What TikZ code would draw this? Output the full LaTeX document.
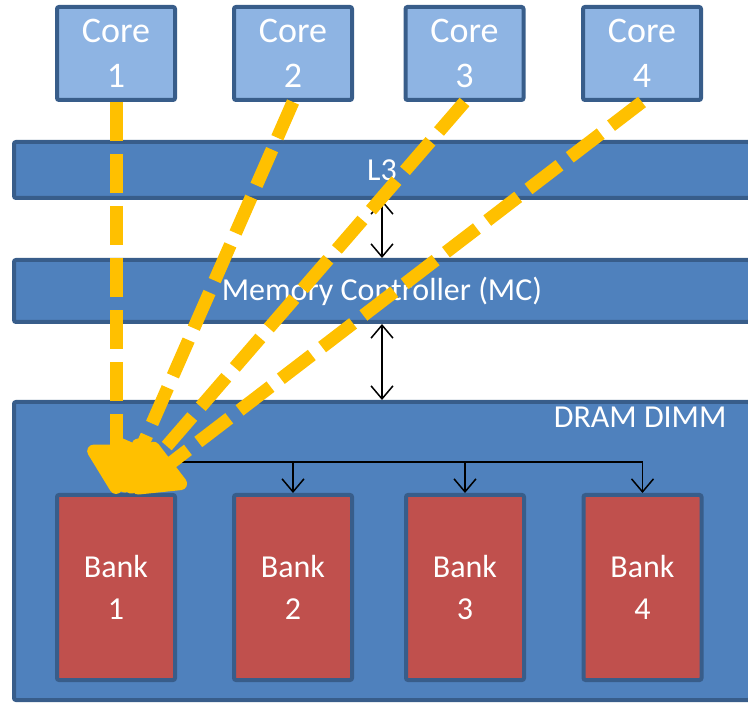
\documentclass[tikz,border=0pt]{standalone}
\usepackage{fontspec}
\setmainfont{Carlito}
\usetikzlibrary{arrows.meta}

\definecolor{coreblue}{RGB}{142,180,227}
\definecolor{barblue}{RGB}{79,129,189}
\definecolor{edgeblue}{RGB}{56,93,138}
\definecolor{bankred}{RGB}{192,80,77}
\definecolor{hitgold}{RGB}{255,192,0}

\tikzset{
  box/.style={draw=edgeblue, line width=4pt, rounded corners=2pt, text=white, align=center, inner sep=0pt},
  corebox/.style={box, fill=coreblue, minimum width=118pt, minimum height=93pt, font=\fontsize{36}{45}\selectfont},
  bankbox/.style={box, fill=bankred, minimum width=118pt, minimum height=185pt, font=\fontsize{32}{42}\selectfont},
  bar/.style={box, fill=barblue, minimum width=736pt, font=\fontsize{32}{40}\selectfont},
  barb/.tip={Straight Barb[length=13pt,width=22pt]},
  link/.style={black, line width=1.5pt, barb-barb},
  busline/.style={black, line width=1.5pt, -barb},
  hit/.style={draw=hitgold, line width=13pt, dash pattern=on 39pt off 13pt, -{Triangle[length=56pt,width=64pt,round]}}
}

\begin{document}
\begin{tikzpicture}[x=1pt,y=-1pt]
\clip (0,0) rectangle (748,703);

\node[corebox] (core1) at (116,53.5) {Core\\1};
\node[corebox] (core2) at (293,53.5) {Core\\2};
\node[corebox] (core3) at (464.5,53.5) {Core\\3};
\node[corebox] (core4) at (642,53.5) {Core\\4};

\node[bar, minimum height=56pt] (l3) at (382,170) {L3};
\node[bar, minimum height=62pt] (mc) at (382,291) {Memory Controller (MC)};
\node[box, fill=barblue, minimum width=736pt, minimum height=298pt] (dimm) at (382,551) {};
\node[text=white, font=\fontsize{32}{40}\selectfont, anchor=east] (dimmlabel) at (730,417) {DRAM DIMM};

\node[bankbox] (bank1) at (116,587.5) {Bank\\1};
\node[bankbox] (bank2) at (293,587.5) {Bank\\2};
\node[bankbox] (bank3) at (465,587.5) {Bank\\3};
\node[bankbox] (bank4) at (642.5,587.5) {Bank\\4};

\draw[link] (l3.south) -- (mc.north);
\draw[link] (mc.south) -- (dimm.north);

% row bus inside the DIMM
\coordinate (tap) at (150,462);
\draw[busline] (tap) -| (bank4.north);
\draw[busline] (tap -| bank2.north) -- (bank2.north);
\draw[busline] (tap -| bank3.north) -- (bank3.north);

% every core hits bank 1
\coordinate (hit1) at (116,494);
\coordinate (hit2) at (122,492);
\coordinate (hit3) at (127,492);
\coordinate (hit4) at (133,492);
\draw[hit] (core1.south) -- (hit1);
\draw[hit] (core2.south) -- (hit2);
\draw[hit] (core3.south) -- (hit3);
\draw[hit] (core4.south) -- (hit4);
\end{tikzpicture}
\end{document}
